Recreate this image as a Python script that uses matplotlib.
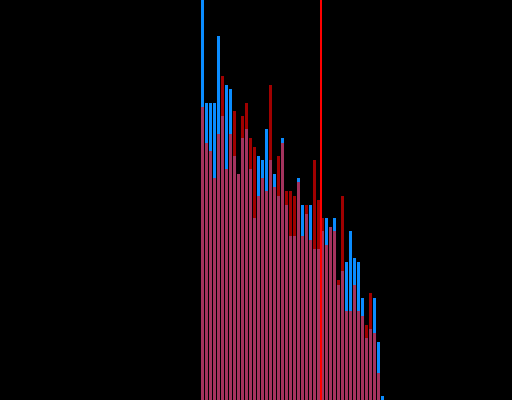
import numpy as np
import matplotlib
matplotlib.use("Agg")
import matplotlib.pyplot as plt

# histogram counts per bin (bin 0 of the blue series runs off the top)
blue_counts = [97, 67, 67, 67, 82, 64, 71, 70, 55, 51, 59, 61, 52, 41, 55, 54,
               61, 54, 51, 46, 59, 44, 37, 37, 50, 44, 42, 44, 34, 34, 38, 41,
               39, 41, 26, 29, 31, 38, 32, 31, 23, 14, 16, 23, 13, 1]
red_counts = [66, 58, 56, 50, 60, 73, 52, 60, 65, 51, 64, 67, 59, 57, 46, 50,
              47, 71, 48, 55, 58, 47, 47, 46, 49, 37, 44, 36, 54, 45, 41, 35,
              39, 38, 27, 46, 20, 20, 26, 20, 19, 17, 24, 15, 6, 0]
threshold = 30.0  # vertical marker, in bin units

bins = np.arange(len(blue_counts))

fig = plt.figure(figsize=(5.12, 4.0), dpi=100, facecolor='black')
ax = fig.add_axes([0, 0, 1, 1], facecolor='black')
ax.bar(bins, blue_counts, width=0.75, align='edge', color='#0a8cff', linewidth=0, antialiased=False)
ax.bar(bins, red_counts, width=0.75, align='edge', color='#ff0000', alpha=0.63, linewidth=0, antialiased=False)
ax.axvline(threshold, color='#ff0000', lw=1.45)
ax.set_xlim(-50.25, 77.75)
ax.set_ylim(0, 90.1)
ax.axis('off')
fig.savefig("out.png", dpi=100, facecolor='black')
